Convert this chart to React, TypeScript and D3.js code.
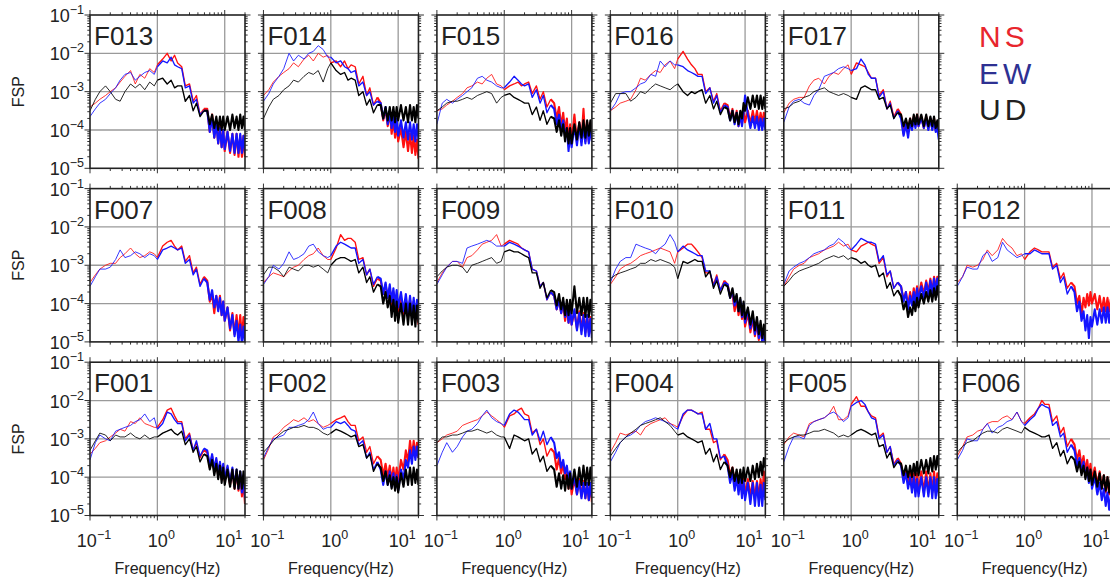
import React from "react";
import * as d3 from "d3";

// Frequencies (Hz) at which the spectra were read
const FREQ = [0.1,0.12,0.14,0.17,0.2,0.24,0.28,0.33,0.4,0.47,0.55,0.65,0.77,0.9,
  1,1.2,1.4,1.6,1.8,2,2.3,2.6,3,3.4,3.8,4.3,4.9,
  5.5,6,6.5,7,7.5,8,8.5,9,9.5,10,11,12,13,14,15,16,17,18,19,20];

// log10(FSP) values, per station and component
const F013_NS = [-3.4,-3.3,-3.2,-3.1,-3.0,-2.9,-2.75,-2.6,-2.45,-2.8,-2.55,-2.65,-2.4,-2.5,-2.3,-2.15,-2.0,-2.2,-2.05,-2.25,-2.35,-2.85,-2.8,-3.25,-3.1,-3.6,-3.45,-3.45,-4.05,-3.6,-4.2,-3.75,-4.35,-3.9,-4.45,-4.0,-4.55,-4.05,-4.6,-4.1,-4.65,-4.1,-4.7,-4.15,-4.7,-4.15,-4.7];
const F013_EW = [-3.65,-3.45,-3.3,-3.2,-3.05,-2.9,-2.7,-2.55,-2.5,-2.7,-2.6,-2.5,-2.45,-2.55,-2.35,-2.2,-2.25,-2.1,-2.3,-2.35,-2.4,-2.9,-2.85,-3.3,-3.2,-3.6,-3.5,-3.5,-4.05,-3.7,-4.2,-3.85,-4.35,-3.95,-4.45,-4.0,-4.5,-4.05,-4.55,-4.1,-4.6,-4.1,-4.6,-4.1,-4.6,-4.15,-4.6];
const F013_UD = [-3.5,-3.2,-3.0,-2.85,-3.0,-3.2,-3.25,-3.0,-2.8,-2.9,-2.8,-2.95,-2.75,-2.85,-2.7,-2.65,-2.8,-2.7,-2.9,-2.85,-2.85,-3.25,-3.1,-3.5,-3.3,-3.65,-3.5,-3.5,-3.85,-3.6,-3.95,-3.65,-4.0,-3.65,-4.0,-3.65,-4.0,-3.65,-4.0,-3.6,-3.95,-3.65,-4.0,-3.6,-3.95,-3.65,-4.0];

const F014_NS = [-3.1,-2.95,-2.75,-2.6,-2.5,-2.4,-2.25,-2.35,-2.15,-2.05,-2.2,-2.0,-2.1,-2.05,-2.25,-2.2,-2.35,-2.2,-2.4,-2.3,-2.35,-2.8,-2.6,-3.1,-2.9,-3.35,-3.15,-3.3,-3.75,-3.45,-3.9,-3.55,-4.1,-3.75,-4.2,-3.85,-4.3,-3.95,-4.45,-4.05,-4.55,-4.1,-4.6,-4.15,-4.65,-4.25,-4.75];
const F014_EW = [-3.25,-3.05,-2.8,-2.6,-2.4,-2.0,-2.2,-2.05,-2.15,-2.0,-1.95,-1.8,-1.9,-2.1,-2.1,-2.25,-2.2,-2.35,-2.4,-2.5,-2.45,-2.85,-2.75,-3.1,-3.0,-3.35,-3.25,-3.3,-3.7,-3.4,-3.85,-3.55,-3.95,-3.6,-4.05,-3.7,-4.15,-3.75,-4.2,-3.8,-4.25,-3.8,-4.25,-3.85,-4.3,-3.85,-4.25];
const F014_UD = [-3.7,-3.4,-3.2,-3.1,-2.95,-2.85,-2.7,-2.75,-2.6,-2.5,-2.55,-2.45,-2.75,-2.4,-2.25,-2.45,-2.55,-2.5,-2.7,-2.65,-2.7,-3.1,-3.0,-3.35,-3.2,-3.55,-3.35,-3.35,-3.7,-3.4,-3.75,-3.4,-3.75,-3.4,-3.8,-3.4,-3.75,-3.35,-3.75,-3.4,-3.8,-3.35,-3.75,-3.4,-3.8,-3.35,-3.7];

const F015_NS = [-3.5,-3.45,-3.35,-3.25,-3.15,-3.05,-2.9,-2.85,-2.75,-2.8,-2.65,-2.55,-2.8,-2.85,-2.95,-2.85,-2.8,-2.75,-2.85,-2.8,-2.75,-3.05,-2.85,-3.2,-3.0,-3.4,-3.2,-3.3,-3.7,-3.4,-3.9,-3.55,-4.05,-3.7,-4.3,-3.85,-4.3,-3.6,-4.3,-3.8,-4.3,-3.45,-4.3,-3.8,-4.3,-3.8,-4.25];
const F015_EW = [-3.85,-3.3,-3.2,-3.3,-3.2,-3.1,-3.0,-2.9,-2.65,-2.6,-2.7,-2.75,-2.85,-2.9,-2.9,-2.75,-2.6,-2.7,-2.8,-2.85,-2.8,-3.15,-2.95,-3.3,-3.1,-3.55,-3.35,-3.45,-3.85,-3.6,-4.0,-3.75,-4.2,-3.95,-4.55,-4.1,-4.45,-3.9,-4.4,-3.85,-4.4,-3.9,-4.35,-3.85,-4.35,-3.9,-4.3];
const F015_UD = [-3.5,-3.4,-3.3,-3.25,-3.25,-3.2,-3.15,-3.2,-3.1,-3.05,-3.0,-3.05,-3.3,-3.15,-3.1,-3.05,-3.15,-3.2,-3.25,-3.3,-3.3,-3.6,-3.4,-3.75,-3.5,-3.85,-3.65,-3.7,-4.05,-3.75,-4.15,-3.85,-4.3,-3.95,-4.35,-3.95,-4.35,-3.85,-4.25,-3.8,-4.2,-3.75,-4.2,-3.75,-4.15,-3.75,-4.15];

const F016_NS = [-3.5,-3.4,-3.3,-3.25,-3.2,-2.95,-2.65,-2.7,-2.55,-2.45,-2.5,-2.3,-2.2,-2.4,-2.15,-1.95,-2.15,-2.3,-2.4,-2.55,-2.55,-3.0,-2.9,-3.25,-3.05,-3.5,-3.3,-3.35,-3.7,-3.45,-3.8,-3.5,-3.9,-3.6,-3.85,-3.5,-3.8,-3.5,-3.85,-3.5,-3.8,-3.5,-3.85,-3.55,-3.85,-3.55,-3.9];
const F016_EW = [-3.5,-3.3,-3.05,-3.0,-3.0,-2.9,-2.8,-2.75,-2.55,-2.6,-2.2,-2.35,-2.2,-2.3,-2.3,-2.35,-2.45,-2.5,-2.55,-2.6,-2.6,-3.05,-2.9,-3.3,-3.1,-3.55,-3.35,-3.4,-3.75,-3.5,-3.85,-3.55,-3.9,-3.6,-3.9,-3.55,-3.1,-3.6,-3.95,-3.65,-3.95,-3.65,-4.0,-3.7,-4.0,-3.7,-4.0];
const F016_UD = [-3.3,-3.05,-3.05,-3.05,-3.25,-3.15,-3.0,-3.05,-2.9,-2.8,-2.85,-2.9,-2.95,-2.85,-2.8,-3.0,-3.1,-3.0,-3.05,-3.0,-2.95,-3.3,-3.1,-3.45,-3.25,-3.6,-3.4,-3.45,-3.75,-3.5,-3.8,-3.55,-3.85,-3.5,-3.7,-3.3,-3.5,-3.15,-3.45,-3.1,-3.4,-3.1,-3.45,-3.1,-3.45,-3.15,-3.45];

const F017_NS = [-3.55,-3.3,-3.2,-3.15,-3.15,-2.85,-2.7,-2.65,-2.8,-2.6,-2.5,-2.55,-2.4,-2.3,-2.55,-2.25,-2.3,-2.35,-2.5,-2.65,-2.65,-3.1,-2.95,-3.45,-3.25,-3.65,-3.45,-3.6,-4.1,-3.8,-4.05,-3.7,-3.95,-3.65,-3.9,-3.6,-3.9,-3.65,-3.95,-3.65,-3.95,-3.7,-3.95,-3.7,-4.0,-3.85,-4.1];
const F017_EW = [-3.8,-3.4,-3.25,-3.2,-3.3,-3.35,-3.1,-2.95,-2.6,-2.55,-2.5,-2.4,-2.35,-2.4,-2.45,-2.4,-2.15,-2.3,-2.55,-2.65,-2.65,-3.15,-3.0,-3.45,-3.3,-3.7,-3.5,-3.7,-4.15,-3.85,-4.2,-3.8,-4.0,-3.7,-3.95,-3.65,-3.9,-3.7,-3.95,-3.7,-4.0,-3.7,-4.0,-3.75,-4.05,-3.95,-4.25];
const F017_UD = [-3.45,-3.4,-3.3,-3.25,-3.15,-3.1,-3.0,-2.95,-2.9,-3.0,-3.05,-3.1,-3.05,-3.1,-3.15,-3.2,-2.9,-2.85,-2.9,-2.95,-2.95,-3.2,-3.15,-3.45,-3.35,-3.7,-3.55,-3.6,-3.9,-3.7,-3.95,-3.7,-3.9,-3.6,-3.85,-3.6,-3.85,-3.6,-3.9,-3.6,-3.9,-3.65,-3.9,-3.65,-3.95,-3.75,-4.0];

const F007_NS = [-3.45,-3.25,-3.1,-3.0,-2.95,-2.95,-2.8,-2.7,-2.55,-2.7,-2.8,-2.75,-2.65,-2.7,-2.8,-2.5,-2.4,-2.35,-2.5,-2.6,-2.5,-2.9,-2.75,-3.2,-3.05,-3.5,-3.3,-3.4,-3.95,-3.75,-4.25,-3.8,-4.15,-3.8,-4.3,-3.95,-4.45,-4.1,-4.7,-4.25,-4.8,-4.3,-4.85,-4.3,-4.9,-4.35,-4.8];
const F007_EW = [-3.55,-3.3,-3.1,-3.1,-3.05,-2.85,-2.6,-2.8,-2.75,-2.65,-2.7,-2.8,-2.7,-2.75,-2.85,-2.6,-2.55,-2.5,-2.55,-2.6,-2.55,-2.95,-2.85,-3.25,-3.1,-3.55,-3.35,-3.45,-3.9,-3.65,-4.1,-3.8,-4.2,-3.85,-4.3,-3.95,-4.45,-4.1,-4.65,-4.3,-4.85,-4.45,-5.0,-4.55,-5.05,-4.6,-5.0];

const F008_NS = [-3.45,-3.3,-3.2,-3.25,-3.3,-3.15,-3.05,-3.0,-2.85,-2.75,-2.7,-2.55,-2.75,-2.85,-2.85,-2.55,-2.2,-2.35,-2.3,-2.3,-2.4,-2.85,-2.8,-3.25,-3.1,-3.55,-3.35,-3.4,-3.75,-3.5,-3.85,-3.6,-4.05,-3.7,-4.15,-3.8,-4.2,-3.85,-4.3,-3.9,-4.35,-3.9,-4.35,-3.95,-4.4,-4.05,-4.55];
const F008_EW = [-3.5,-3.3,-3.0,-3.1,-2.95,-2.65,-2.85,-2.8,-2.7,-2.5,-2.45,-2.65,-2.75,-2.8,-2.75,-2.5,-2.4,-2.45,-2.5,-2.55,-2.55,-2.95,-2.85,-3.25,-3.1,-3.5,-3.3,-3.35,-3.75,-3.45,-3.85,-3.5,-3.95,-3.6,-4.05,-3.65,-4.1,-3.7,-4.2,-3.75,-4.25,-3.8,-4.3,-3.85,-4.35,-3.9,-4.4];
const F008_UD = [-3.25,-3.05,-3.05,-3.15,-3.3,-3.05,-3.1,-3.15,-3.0,-3.0,-3.05,-3.0,-3.1,-3.2,-3.0,-2.85,-2.8,-2.8,-2.85,-2.9,-2.85,-3.2,-3.05,-3.45,-3.3,-3.7,-3.5,-3.55,-4.0,-3.7,-4.1,-3.8,-4.35,-3.9,-4.45,-3.95,-4.5,-4.0,-4.55,-4.0,-4.55,-4.0,-4.55,-4.05,-4.6,-4.05,-4.5];

const F009_NS = [-3.45,-3.2,-3.05,-2.9,-2.9,-3.05,-2.8,-2.75,-2.6,-2.45,-2.4,-2.35,-2.2,-2.5,-2.45,-2.35,-2.4,-2.45,-2.55,-2.6,-2.65,-3.1,-3.15,-3.55,-3.45,-3.9,-3.7,-3.8,-4.15,-3.9,-4.25,-4.0,-4.45,-4.1,-4.5,-4.2,-4.55,-4.2,-4.65,-4.2,-4.7,-4.25,-4.75,-4.3,-4.75,-4.35,-4.8];
const F009_EW = [-3.5,-3.25,-3.05,-2.9,-2.9,-2.95,-2.55,-2.5,-2.45,-2.4,-2.35,-2.4,-2.5,-2.5,-2.5,-2.4,-2.45,-2.5,-2.55,-2.6,-2.65,-3.1,-3.15,-3.55,-3.45,-3.9,-3.7,-3.8,-4.15,-3.9,-4.25,-3.95,-4.35,-4.05,-4.5,-4.1,-4.55,-4.15,-4.7,-4.25,-4.8,-4.3,-4.85,-4.3,-4.85,-4.4,-4.9];
const F009_UD = [-3.3,-3.15,-3.05,-3.0,-3.0,-3.05,-3.2,-3.0,-2.95,-2.9,-2.85,-2.8,-2.95,-2.9,-2.65,-2.6,-2.65,-2.65,-2.7,-2.75,-2.8,-3.2,-3.2,-3.6,-3.45,-3.85,-3.65,-3.7,-4.05,-3.75,-4.15,-3.85,-4.3,-3.9,-4.3,-3.9,-4.25,-3.55,-4.25,-3.85,-4.3,-3.85,-4.35,-3.85,-4.35,-3.9,-4.3];

const F010_NS = [-3.5,-3.3,-3.1,-3.0,-2.95,-2.85,-2.75,-2.7,-2.65,-2.6,-2.55,-2.6,-2.65,-2.95,-2.65,-2.55,-2.45,-2.45,-2.55,-2.65,-2.8,-3.2,-3.2,-3.5,-3.25,-3.65,-3.4,-3.5,-3.8,-3.75,-4.2,-3.9,-4.3,-4.0,-4.4,-4.1,-4.6,-4.25,-4.75,-4.4,-4.85,-4.5,-4.95,-4.6,-5.0,-4.65,-5.0];
const F010_EW = [-3.45,-3.1,-2.9,-2.8,-2.8,-2.45,-2.5,-2.55,-2.6,-2.7,-2.55,-2.45,-2.2,-2.4,-2.65,-2.5,-2.6,-2.65,-2.7,-2.75,-2.75,-3.15,-3.15,-3.55,-3.3,-3.65,-3.45,-3.5,-3.85,-3.65,-4.05,-3.8,-4.2,-3.9,-4.35,-4.0,-4.5,-4.15,-4.65,-4.3,-4.8,-4.45,-4.9,-4.6,-5.0,-4.75,-5.1];
const F010_UD = [-3.35,-3.25,-3.2,-3.15,-3.1,-3.05,-2.95,-2.95,-2.85,-2.9,-2.85,-2.9,-2.95,-3.05,-3.35,-2.9,-2.95,-2.9,-2.85,-2.9,-2.9,-3.3,-3.15,-3.6,-3.4,-3.75,-3.5,-3.55,-3.85,-3.6,-3.95,-3.75,-4.2,-3.85,-4.3,-3.95,-4.4,-4.1,-4.55,-4.2,-4.7,-4.35,-4.8,-4.45,-4.9,-4.55,-4.95];

const F011_NS = [-3.55,-3.3,-3.1,-3.0,-2.95,-2.8,-2.75,-2.7,-2.6,-2.55,-2.5,-2.4,-2.5,-2.45,-2.6,-2.65,-2.5,-2.45,-2.4,-2.45,-2.5,-2.95,-2.8,-3.3,-3.15,-3.6,-3.45,-3.55,-3.9,-3.7,-4.05,-3.7,-4.0,-3.6,-3.95,-3.55,-3.85,-3.45,-3.75,-3.4,-3.7,-3.35,-3.7,-3.3,-3.65,-3.3,-3.6];
const F011_EW = [-3.5,-3.15,-3.05,-2.95,-2.9,-2.8,-2.7,-2.65,-2.6,-2.5,-2.45,-2.3,-2.4,-2.55,-2.6,-2.45,-2.3,-2.35,-2.4,-2.4,-2.45,-2.9,-2.75,-3.25,-3.15,-3.6,-3.45,-3.55,-3.95,-3.7,-4.15,-3.8,-4.05,-3.7,-4.0,-3.6,-3.9,-3.55,-3.85,-3.45,-3.8,-3.4,-3.75,-3.35,-3.7,-3.35,-3.65];
const F011_UD = [-3.55,-3.4,-3.25,-3.15,-3.1,-3.05,-3.0,-2.95,-2.85,-2.8,-2.75,-2.8,-2.75,-2.85,-2.8,-2.85,-2.95,-2.9,-3.0,-3.05,-3.0,-3.3,-3.2,-3.6,-3.45,-3.8,-3.65,-3.8,-4.15,-3.95,-4.35,-4.1,-4.3,-3.95,-4.2,-3.85,-4.1,-3.75,-4.0,-3.7,-3.95,-3.65,-3.95,-3.6,-3.9,-3.55,-3.85];

const F012_NS = [-3.45,-3.3,-3.0,-3.05,-3.0,-2.85,-2.6,-2.75,-2.6,-2.3,-2.45,-2.55,-2.75,-2.7,-2.85,-2.65,-2.55,-2.6,-2.65,-2.65,-2.65,-3.05,-2.95,-3.35,-3.2,-3.6,-3.45,-3.55,-4.0,-3.8,-4.3,-3.85,-4.1,-3.75,-4.05,-3.7,-4.0,-3.75,-4.15,-3.8,-4.2,-3.85,-4.2,-3.85,-4.2,-3.9,-4.2];
const F012_EW = [-3.55,-3.3,-3.05,-3.1,-3.1,-2.75,-2.65,-2.9,-2.8,-2.4,-2.6,-2.7,-2.8,-2.75,-2.7,-2.7,-2.6,-2.65,-2.7,-2.7,-2.7,-3.1,-3.0,-3.45,-3.3,-3.75,-3.55,-3.7,-4.2,-3.95,-4.45,-4.2,-4.7,-4.3,-4.9,-4.35,-4.6,-4.15,-4.55,-4.15,-4.5,-4.1,-4.5,-4.1,-4.5,-4.15,-4.5];

const F001_NS = [-3.4,-3.25,-3.1,-3.05,-2.95,-2.85,-2.75,-2.8,-2.55,-2.6,-2.45,-2.6,-2.65,-2.7,-2.7,-2.5,-2.25,-2.2,-2.4,-2.55,-2.55,-3.0,-2.85,-3.3,-3.1,-3.5,-3.3,-3.35,-3.75,-3.45,-3.85,-3.55,-3.95,-3.65,-4.05,-3.7,-4.1,-3.75,-4.2,-3.8,-4.3,-3.85,-4.35,-3.95,-4.5,-4.1,-4.7];
const F001_EW = [-3.55,-3.1,-2.9,-3.0,-3.05,-2.8,-2.75,-2.7,-2.65,-2.55,-2.5,-2.35,-2.55,-2.45,-2.75,-2.6,-2.3,-2.35,-2.5,-2.6,-2.6,-3.05,-2.9,-3.3,-3.05,-3.45,-3.25,-3.3,-3.7,-3.4,-3.8,-3.5,-3.9,-3.6,-4.0,-3.65,-4.05,-3.7,-4.15,-3.75,-4.25,-3.8,-4.3,-3.85,-4.4,-3.95,-4.55];
const F001_UD = [-3.3,-3.05,-2.85,-2.9,-3.05,-2.9,-2.95,-2.95,-2.85,-2.95,-3.0,-2.9,-3.0,-2.95,-2.95,-2.85,-2.8,-2.75,-2.85,-2.9,-2.8,-3.15,-3.0,-3.35,-3.2,-3.6,-3.4,-3.45,-3.8,-3.55,-3.95,-3.65,-4.05,-3.7,-4.15,-3.75,-4.2,-3.8,-4.25,-3.8,-4.3,-3.8,-4.3,-3.85,-4.3,-3.85,-4.3];

const F002_NS = [-3.55,-3.25,-2.95,-2.85,-2.7,-2.6,-2.5,-2.55,-2.45,-2.55,-2.5,-2.6,-2.7,-2.65,-2.6,-2.5,-2.45,-2.4,-2.55,-2.65,-2.65,-3.05,-2.95,-3.35,-3.2,-3.65,-3.45,-3.55,-3.95,-3.65,-4.0,-3.7,-4.1,-3.75,-4.15,-3.75,-4.1,-3.55,-3.8,-3.3,-3.6,-3.05,-3.45,-3.05,-3.45,-3.1,-3.5];
const F002_EW = [-3.5,-3.2,-3.0,-2.95,-2.9,-2.7,-2.7,-2.65,-2.6,-2.5,-2.3,-2.6,-2.75,-2.7,-2.7,-2.55,-2.6,-2.55,-2.65,-2.75,-2.8,-3.15,-3.05,-3.5,-3.35,-3.8,-3.6,-3.8,-4.2,-3.85,-4.2,-3.85,-4.25,-3.9,-4.3,-3.95,-4.35,-3.8,-4.05,-3.55,-3.75,-3.3,-3.65,-3.2,-3.55,-3.2,-3.5];
const F002_UD = [-3.35,-3.2,-3.05,-2.9,-2.8,-2.75,-2.7,-2.7,-2.65,-2.7,-2.7,-2.75,-2.85,-2.9,-2.85,-2.75,-2.8,-2.85,-2.9,-2.95,-2.9,-3.2,-3.15,-3.5,-3.4,-3.85,-3.65,-3.75,-4.1,-3.85,-4.2,-3.95,-4.3,-4.0,-4.35,-4.0,-4.4,-3.9,-4.25,-3.8,-4.2,-3.75,-4.2,-3.75,-4.15,-3.8,-4.2];

const F003_NS = [-3.1,-3.0,-2.9,-2.85,-2.8,-2.65,-2.6,-2.55,-2.5,-2.4,-2.3,-2.4,-2.5,-2.6,-2.7,-2.4,-2.35,-2.25,-2.2,-2.35,-2.4,-2.85,-2.75,-3.15,-3.0,-3.45,-3.25,-3.35,-3.8,-3.5,-3.9,-3.65,-4.05,-3.8,-4.3,-3.95,-4.45,-4.05,-4.45,-4.05,-4.5,-4.1,-4.55,-4.15,-4.6,-4.2,-4.65];
const F003_EW = [-3.7,-3.35,-3.1,-3.35,-3.2,-2.95,-2.8,-2.75,-2.6,-2.4,-2.25,-2.45,-2.55,-2.6,-2.65,-2.35,-2.25,-2.3,-2.4,-2.5,-2.5,-2.9,-2.75,-3.05,-2.8,-3.15,-2.95,-3.1,-3.5,-3.35,-3.75,-3.55,-3.9,-3.7,-4.05,-3.85,-4.3,-4.0,-4.45,-4.1,-4.55,-4.15,-4.55,-4.15,-4.6,-4.15,-4.55];
const F003_UD = [-3.1,-2.95,-2.95,-2.9,-2.9,-2.85,-2.8,-2.8,-2.75,-2.8,-2.85,-2.8,-2.9,-2.95,-2.95,-3.25,-2.9,-2.95,-3.0,-3.05,-3.0,-3.4,-3.25,-3.6,-3.45,-3.85,-3.7,-3.8,-4.25,-3.9,-4.3,-3.95,-4.35,-3.95,-4.3,-3.9,-4.3,-3.8,-4.25,-3.75,-4.2,-3.7,-4.2,-3.75,-4.2,-3.75,-4.15];

const F004_NS = [-3.35,-3.1,-2.85,-2.9,-2.85,-2.8,-2.9,-2.7,-2.6,-2.55,-2.5,-2.45,-2.6,-2.65,-2.7,-2.4,-2.25,-2.25,-2.3,-2.35,-2.3,-2.75,-2.75,-3.1,-3.05,-3.55,-3.4,-3.55,-3.95,-3.75,-4.15,-3.9,-4.3,-4.0,-4.4,-4.05,-4.45,-4.05,-4.5,-4.1,-4.55,-4.1,-4.55,-4.05,-4.5,-3.85,-4.45];
const F004_EW = [-3.6,-3.35,-3.1,-2.95,-2.9,-2.8,-2.65,-2.55,-2.5,-2.45,-2.5,-2.55,-2.6,-2.7,-2.75,-2.35,-2.25,-2.25,-2.3,-2.35,-2.35,-2.75,-2.6,-3.0,-3.0,-3.5,-3.45,-3.7,-4.15,-3.9,-4.35,-4.0,-4.45,-4.05,-4.55,-4.1,-4.6,-4.15,-4.7,-4.15,-4.75,-4.15,-4.75,-4.2,-4.75,-4.15,-4.6];
const F004_UD = [-3.45,-3.25,-3.1,-2.95,-2.85,-2.75,-2.65,-2.6,-2.55,-2.5,-2.45,-2.55,-2.65,-2.8,-2.9,-2.85,-2.95,-3.0,-3.05,-3.1,-3.05,-3.4,-3.25,-3.6,-3.4,-3.8,-3.6,-3.7,-4.0,-3.75,-4.1,-3.8,-4.15,-3.8,-4.15,-3.75,-4.1,-3.75,-4.1,-3.7,-4.05,-3.65,-4.0,-3.6,-3.95,-3.5,-3.75];

const F005_NS = [-3.15,-2.95,-2.85,-2.9,-2.95,-2.6,-2.55,-2.5,-2.45,-2.35,-2.15,-2.5,-2.5,-2.4,-2.1,-1.9,-2.15,-2.15,-2.3,-2.4,-2.45,-2.95,-2.85,-3.35,-3.2,-3.65,-3.5,-3.65,-4.05,-3.8,-4.15,-3.85,-4.3,-3.9,-4.35,-3.9,-4.4,-3.85,-4.4,-3.85,-4.4,-3.9,-4.4,-3.85,-4.4,-3.9,-4.35];
const F005_EW = [-3.6,-3.2,-2.95,-2.95,-3.0,-2.65,-2.55,-2.5,-2.45,-2.35,-2.3,-2.4,-2.55,-2.45,-2.15,-2.05,-2.0,-2.1,-2.3,-2.45,-2.5,-3.0,-2.9,-3.35,-3.2,-3.7,-3.55,-3.7,-4.15,-3.9,-4.3,-4.0,-4.4,-4.0,-4.5,-4.05,-4.5,-4.0,-4.5,-4.0,-4.5,-4.0,-4.55,-4.0,-4.55,-4.05,-4.5];
const F005_UD = [-3.1,-3.0,-2.95,-2.9,-2.9,-2.85,-2.8,-2.8,-2.75,-2.8,-2.85,-2.95,-2.9,-2.95,-2.9,-2.8,-2.75,-2.8,-2.85,-2.9,-2.85,-3.2,-3.15,-3.5,-3.35,-3.75,-3.6,-3.65,-3.95,-3.7,-4.0,-3.7,-4.0,-3.65,-3.95,-3.6,-3.95,-3.55,-3.9,-3.55,-3.9,-3.5,-3.85,-3.45,-3.8,-3.45,-3.75];

const F006_NS = [-3.45,-3.2,-2.95,-2.9,-2.8,-2.75,-2.6,-2.55,-2.55,-2.45,-2.4,-2.5,-2.3,-2.55,-2.6,-2.45,-2.35,-2.2,-2.0,-2.1,-2.1,-2.55,-2.4,-2.85,-2.7,-3.2,-3.0,-3.15,-3.55,-3.3,-3.7,-3.45,-3.85,-3.55,-3.95,-3.65,-4.05,-3.75,-4.2,-3.85,-4.3,-3.95,-4.4,-4.0,-4.45,-4.1,-4.5];
const F006_EW = [-3.55,-3.3,-3.0,-3.05,-3.05,-2.75,-2.6,-2.85,-2.7,-2.65,-2.55,-2.5,-2.3,-2.55,-2.65,-2.5,-2.4,-2.2,-2.1,-2.15,-2.2,-2.65,-2.55,-2.95,-2.85,-3.35,-3.15,-3.3,-3.7,-3.5,-3.85,-3.6,-4.0,-3.75,-4.15,-3.85,-4.3,-4.0,-4.45,-4.15,-4.6,-4.3,-4.75,-4.4,-4.85,-4.5,-4.9];
const F006_UD = [-3.35,-3.2,-3.1,-3.05,-2.95,-2.85,-2.8,-2.8,-2.85,-2.75,-2.7,-2.75,-2.8,-2.85,-2.7,-2.8,-2.85,-2.9,-2.95,-2.95,-2.9,-3.25,-3.1,-3.45,-3.3,-3.65,-3.45,-3.55,-3.85,-3.6,-3.95,-3.7,-4.05,-3.75,-4.1,-3.8,-4.2,-3.85,-4.25,-3.9,-4.3,-3.95,-4.35,-4.0,-4.4,-4.05,-4.4];

const ROWS = [
  ["F013", "F014", "F015", "F016", "F017"],
  ["F007", "F008", "F009", "F010", "F011", "F012"],
  ["F001", "F002", "F003", "F004", "F005", "F006"],
];
const COMPONENTS = ["NS", "EW", "UD"];
const COLORS = { NS: "#ff1010", EW: "#1414ff", UD: "#000000" };
const LEGEND_COLORS = { NS: "#e8262d", EW: "#2e3192", UD: "#231f20" };
const X_TICK_LABELS = [{ v: 0.1, e: "\u22121" }, { v: 1, e: "0" }, { v: 10, e: "1" }];
const Y_TICK_LABELS = [{ v: 1e-1, e: "\u22121" }, { v: 1e-2, e: "\u22122" }, { v: 1e-3, e: "\u22123" }, { v: 1e-4, e: "\u22124" }, { v: 1e-5, e: "\u22125" }];
// stroke width per frequency band: sparse low-frequency part thin, dense high-frequency part thicker
const BANDS = [{ lo: 0, hi: 1.0, w: 0.85 }, { lo: 1.0, hi: 4.9, w: 1.35 }, { lo: 4.9, hi: 99, w: 2.1 }];

const DATA = {
  F013: { NS: F013_NS, EW: F013_EW, UD: F013_UD },
  F014: { NS: F014_NS, EW: F014_EW, UD: F014_UD },
  F015: { NS: F015_NS, EW: F015_EW, UD: F015_UD },
  F016: { NS: F016_NS, EW: F016_EW, UD: F016_UD },
  F017: { NS: F017_NS, EW: F017_EW, UD: F017_UD },
  F007: { NS: F007_NS, EW: F007_EW, UD: null },
  F008: { NS: F008_NS, EW: F008_EW, UD: F008_UD },
  F009: { NS: F009_NS, EW: F009_EW, UD: F009_UD },
  F010: { NS: F010_NS, EW: F010_EW, UD: F010_UD },
  F011: { NS: F011_NS, EW: F011_EW, UD: F011_UD },
  F012: { NS: F012_NS, EW: F012_EW, UD: null },
  F001: { NS: F001_NS, EW: F001_EW, UD: F001_UD },
  F002: { NS: F002_NS, EW: F002_EW, UD: F002_UD },
  F003: { NS: F003_NS, EW: F003_EW, UD: F003_UD },
  F004: { NS: F004_NS, EW: F004_EW, UD: F004_UD },
  F005: { NS: F005_NS, EW: F005_EW, UD: F005_UD },
  F006: { NS: F006_NS, EW: F006_EW, UD: F006_UD },
};

const W = 1110, H = 581;
const X0 = 90, Y0 = 15, DX = 173.45, DY = 173.6, PW = 155, PH = 153.3;
const FONT = "'Liberation Sans', Arial, Helvetica, sans-serif";

const xs = d3.scaleLog().domain([0.1, 20]).range([0, PW]);
const ys = d3.scaleLog().domain([1e-5, 1e-1]).range([PH, 0]);
const xTicks = xs.ticks();
const yTicks = ys.ticks();
const isMajor = (v: number) => Math.abs(Math.log10(v) - Math.round(Math.log10(v))) < 1e-6;

const line = d3.line<[number, number]>()
  .x((d) => xs(d[0]))
  .y((d) => ys(Math.pow(10, d[1])));

function Panel({ name, row, col }: { name: string; row: number; col: number }) {
  const px = X0 + col * DX;
  const py = Y0 + row * DY;
  const clipId = `clip-${name}`;
  const series = (DATA as any)[name];
  const tickColor = "#333";
  return (
    <g transform={`translate(${px},${py})`}>
      <defs>
        <clipPath id={clipId}>
          <rect x={0} y={0} width={PW} height={PH} />
        </clipPath>
      </defs>
      {xTicks.filter((t) => isMajor(t) && t > 0.1).map((t) => (
        <line key={`gx${t}`} x1={xs(t)} x2={xs(t)} y1={0} y2={PH} stroke="#9a9a9a" strokeWidth={1.3} />
      ))}
      {yTicks.filter((t) => isMajor(t) && t > 1e-5 && t < 1e-1).map((t) => (
        <line key={`gy${t}`} x1={0} x2={PW} y1={ys(t)} y2={ys(t)} stroke="#9a9a9a" strokeWidth={1.3} />
      ))}
      <g clipPath={`url(#${clipId})`}>
        {COMPONENTS.map((c) => {
          const vals: number[] | null = series[c];
          if (!vals) return null;
          const pts: [number, number][] = vals
            .map((v, i) => [FREQ[i], v] as [number, number])
            .filter((d) => d[0] !== undefined);
          return (
            <g key={c}>
              {BANDS.map((b, bi) => (
                <path key={bi} d={line(pts.filter((d) => d[0] >= b.lo && d[0] <= b.hi)) || ""}
                  fill="none" stroke={(COLORS as any)[c]} strokeWidth={b.w} strokeLinejoin="round" />
              ))}
            </g>
          );
        })}
      </g>
      {xTicks.map((t) => {
        const L = isMajor(t) ? 5 : 2.7;
        return (
          <g key={`tx${t}`} stroke={tickColor} strokeWidth={1}>
            <line x1={xs(t)} x2={xs(t)} y1={0} y2={-L} />
            <line x1={xs(t)} x2={xs(t)} y1={PH} y2={PH + L} />
          </g>
        );
      })}
      {yTicks.map((t) => {
        const L = isMajor(t) ? 5.5 : 2.7;
        return (
          <g key={`ty${t}`} stroke={tickColor} strokeWidth={1}>
            <line x1={0} x2={-L} y1={ys(t)} y2={ys(t)} />
            <line x1={PW} x2={PW + L} y1={ys(t)} y2={ys(t)} />
          </g>
        );
      })}
      <rect x={0} y={0} width={PW} height={PH} fill="none" stroke="#222" strokeWidth={1.6} />
      <text x={4} y={30} fontSize={26} fill="#222" fontFamily={FONT}>{name}</text>
      {col === 0 && Y_TICK_LABELS.map((t) => (
        <text key={`yl${t.e}`} x={-6} y={ys(t.v) + 7} textAnchor="end" fontSize={18} fill="#222" fontFamily={FONT}>
          10<tspan dy={-8} fontSize={12.5}>{t.e}</tspan>
        </text>
      ))}
      {col === 0 && (
        <text transform={`translate(${18 - px},${PH / 2}) rotate(-90)`} textAnchor="middle" fontSize={16}
          fill="#222" fontFamily={FONT} dy={5.5}>FSP</text>
      )}
      {row === 2 && X_TICK_LABELS.map((t) => (
        <text key={`xl${t.e}`} x={xs(t.v) + 4} y={PH + 32} textAnchor="middle" fontSize={18} fill="#222" fontFamily={FONT}>
          10<tspan dy={-8} fontSize={12.5}>{t.e}</tspan>
        </text>
      ))}
      {row === 2 && (
        <text x={PW / 2} y={PH + 59} textAnchor="middle" fontSize={16} fill="#222" fontFamily={FONT}>Frequency(Hz)</text>
      )}
    </g>
  );
}

export default function App() {
  return (
    <svg width={W} height={H} viewBox={`0 0 ${W} ${H}`}
      style={{ position: "absolute", left: 0, top: 0, display: "block", background: "#fff" }}>
      <rect x={0} y={0} width={W} height={H} fill="#fff" />
      {ROWS.map((r, ri) => r.map((name, ci) => <Panel key={name} name={name} row={ri} col={ci} />))}
      {COMPONENTS.map((c, i) => (
        <text key={c} x={979} y={47 + i * 36.7} fontSize={30} letterSpacing={4}
          fill={(LEGEND_COLORS as any)[c]} fontFamily={FONT}>{c}</text>
      ))}
    </svg>
  );
}
